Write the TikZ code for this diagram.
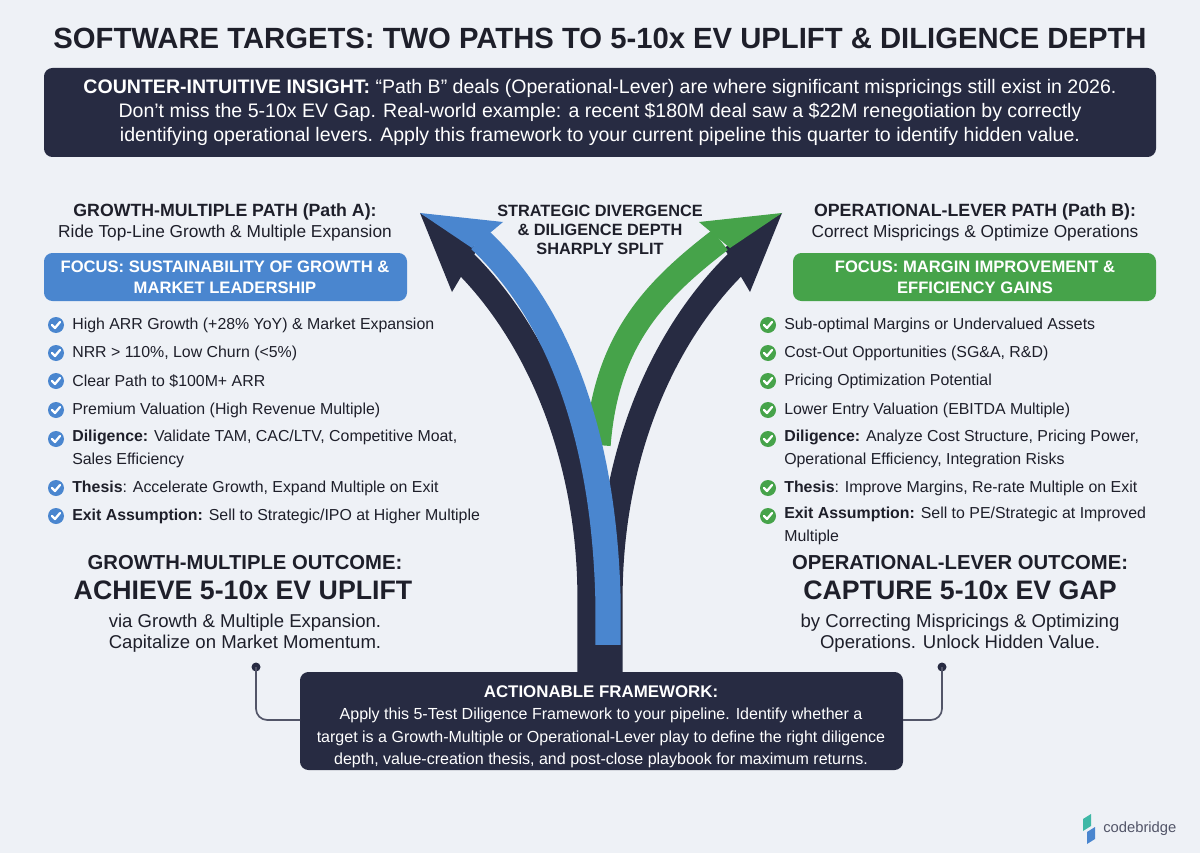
\documentclass[tikz,border=0pt]{standalone}
\usepackage{fontspec}
\setmainfont{Liberation Sans}
\usetikzlibrary{positioning}
\definecolor{navy}{HTML}{272B42}
\definecolor{pathblue}{HTML}{4A86CF}
\definecolor{pathgreen}{HTML}{46A34A}
\definecolor{bgpaper}{HTML}{EEF1F6}
\definecolor{ink}{HTML}{1E1F2A}
\definecolor{teal}{HTML}{3FB8A6}
% check bullet
\newcommand\chkmark[3]{%
  \fill[#1] (#2,#3) circle (8);
  \draw[white,line width=1.6pt,line cap=round,line join=round] (#2-4,#3) -- (#2-1,#3+3) -- (#2+4,#3-3);}
\begin{document}
\begin{tikzpicture}[x=0.025cm,y=-0.025cm,
  every node/.style={text=ink,inner sep=0pt},
  txt/.style={font=\fontsize{11.3}{16.5}\selectfont,anchor=west,align=left},
  head/.style={font=\fontsize{12.6}{15}\selectfont\bfseries,align=center},
  sub/.style={font=\fontsize{12.3}{15}\selectfont,align=center},
  big/.style={font=\fontsize{13.2}{14.5}\selectfont,align=center},
  band/.style={line width=18pt},
  box/.style={rounded corners=6pt,fill=#1}]
\fill[bgpaper] (0,0) rectangle (1200,853);
\useasboundingbox (0,0) rectangle (1200,853);

% title
\node[font=\fontsize{20.8}{24}\selectfont\bfseries] (title) at (600,38) {SOFTWARE TARGETS: TWO PATHS TO 5-10x EV UPLIFT \& DILIGENCE DEPTH};

% insight
\fill[box=navy] (44,68) rectangle (1156,157);
\node[text=white,font=\fontsize{13.9}{17.1}\selectfont,align=center] (insight) at (600,112)
 {\textbf{COUNTER-INTUITIVE INSIGHT:} “Path B” deals (Operational-Lever) are where significant mispricings still exist in 2026.\\
  Don’t miss the 5-10x EV Gap. Real-world example: a recent \$180M deal saw a \$22M renegotiation by correctly\\
  identifying operational levers. Apply this framework to your current pipeline this quarter to identify hidden value.};

% arrows
\draw[band,navy] (590,680) -- (590,590) .. controls (588,450) and (535,330) .. (460,258);
\fill[navy] (420,213) -- (452,292) -- (478,248) -- cycle;
\draw[band,navy] (610,680) -- (610,590) .. controls (612,450) and (665,330) .. (742,258);
\fill[navy] (782,213) -- (750,292) -- (724,248) -- cycle;
\draw[band,pathgreen] (598,445) .. controls (606,340) and (655,290) .. (720,240);
\fill[pathgreen] (782,213) -- (699,222) -- (730,248) -- cycle;
\draw[band,pathblue] (608,645) -- (608,600) .. controls (604,430) and (555,310) .. (480,240);
\fill[pathblue] (420,213) -- (503,222) -- (472,248) -- cycle;
\fill[navy] (578,645) rectangle (622,680);
\node[head,font=\fontsize{11.6}{13.6}\selectfont\bfseries] (split) at (600,230) {STRATEGIC DIVERGENCE\\\& DILIGENCE DEPTH\\SHARPLY SPLIT};

% path A
\node[head] (headA) at (225,212) {GROWTH-MULTIPLE PATH (Path A):};
\node[sub] (subA) at (225,233) {Ride Top-Line Growth \& Multiple Expansion};
\fill[box=pathblue] (44,253) rectangle (407,301);
\node[head,text=white,font=\fontsize{11.8}{15}\selectfont\bfseries] (focusA) at (225,277) {FOCUS: SUSTAINABILITY OF GROWTH \&\\MARKET LEADERSHIP};
\foreach \c/\y/\t in {325/325/{High ARR Growth (+28\% YoY) \& Market Expansion},
  353/353/{NRR > 110\%, Low Churn (<5\%)},
  381/381/{Clear Path to \$100M+ ARR},
  410/410/{Premium Valuation (High Revenue Multiple)},
  439/449/{\textbf{Diligence:} Validate TAM, CAC/LTV, Competitive Moat,\\Sales Efficiency},
  488/488/{\textbf{Thesis}: Accelerate Growth, Expand Multiple on Exit},
  516/516/{\textbf{Exit Assumption:} Sell to Strategic/IPO at Higher Multiple}}{
  \chkmark{pathblue}{56}{\c}
  \node[txt] (a\c) at (72,\y) {\t};
}
\node[head,font=\fontsize{14.4}{17}\selectfont\bfseries] (outA) at (245,563) {GROWTH-MULTIPLE OUTCOME:};
\node[head,font=\fontsize{19}{22}\selectfont\bfseries] (upA) at (243,590) {ACHIEVE 5-10x EV UPLIFT};
\node[big] (viaA) at (245,633) {via Growth \& Multiple Expansion.\\Capitalize on Market Momentum.};

% path B
\node[head] (headB) at (975,212) {OPERATIONAL-LEVER PATH (Path B):};
\node[sub] (subB) at (975,233) {Correct Mispricings \& Optimize Operations};
\fill[box=pathgreen] (793,253) rectangle (1156,301);
\node[head,text=white,font=\fontsize{11.8}{15}\selectfont\bfseries] (focusB) at (975,277) {FOCUS: MARGIN IMPROVEMENT \&\\EFFICIENCY GAINS};
\foreach \c/\y/\t in {325/325/{Sub-optimal Margins or Undervalued Assets},
  353/353/{Cost-Out Opportunities (SG\&A, R\&D)},
  381/381/{Pricing Optimization Potential},
  410/410/{Lower Entry Valuation (EBITDA Multiple)},
  439/449/{\textbf{Diligence:} Analyze Cost Structure, Pricing Power,\\Operational Efficiency, Integration Risks},
  488/488/{\textbf{Thesis}: Improve Margins, Re-rate Multiple on Exit},
  516/526/{\textbf{Exit Assumption:} Sell to PE/Strategic at Improved\\Multiple}}{
  \chkmark{pathgreen}{768}{\c}
  \node[txt] (b\c) at (784,\y) {\t};
}
\node[head,font=\fontsize{14.4}{17}\selectfont\bfseries] (outB) at (960,563) {OPERATIONAL-LEVER OUTCOME:};
\node[head,font=\fontsize{19}{22}\selectfont\bfseries] (upB) at (960,590) {CAPTURE 5-10x EV GAP};
\node[big] (viaB) at (960,633) {by Correcting Mispricings \& Optimizing\\Operations. Unlock Hidden Value.};

% framework
\fill[box=navy] (300,672) rectangle (903,770);
\node[head,text=white,font=\fontsize{12}{14}\selectfont\bfseries] (fwtitle) at (601,692) {ACTIONABLE FRAMEWORK:};
\node[text=white,font=\fontsize{11.4}{16.2}\selectfont,align=center] (fwbody) at (601,738)
 {Apply this 5-Test Diligence Framework to your pipeline. Identify whether a\\
  target is a Growth-Multiple or Operational-Lever play to define the right diligence\\
  depth, value-creation thesis, and post-close playbook for maximum returns.};
\coordinate (dotA) at (256,667);
\coordinate (dotB) at (942,667);
\coordinate (fwA) at (300,720);
\coordinate (fwB) at (903,720);
\fill[navy] (dotA) circle (4.5) (dotB) circle (4.5);
\draw[navy!80,line width=1.2pt,rounded corners=8pt] (dotA) |- (fwA);
\draw[navy!80,line width=1.2pt,rounded corners=8pt] (dotB) |- (fwB);

% logo
\fill[teal] (1083,819) -- (1091,814) -- (1091,826) -- (1083,831) -- cycle;
\fill[pathblue] (1087,832) -- (1095,827) -- (1095,839) -- (1087,844) -- cycle;
\node[anchor=west,text=navy!80,font=\fontsize{10.5}{12}\selectfont] (logo) at (1103,829) {codebridge};
\end{tikzpicture}
\end{document}
